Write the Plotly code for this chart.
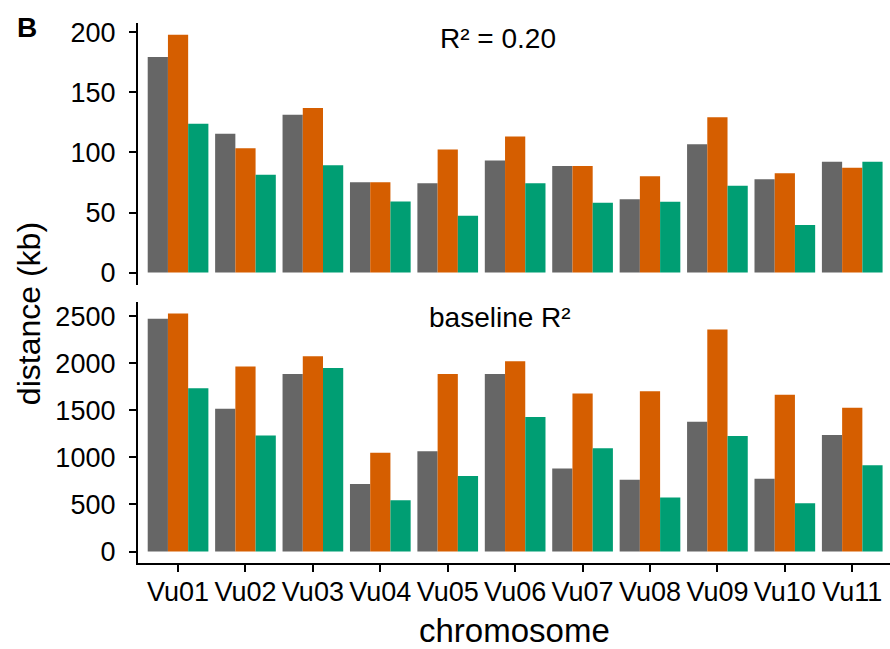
import plotly.graph_objects as go

# Chromosomes and distances (kb) for the three series
chromosomes = ["Vu01", "Vu02", "Vu03", "Vu04", "Vu05", "Vu06",
               "Vu07", "Vu08", "Vu09", "Vu10", "Vu11"]

# Top panel: distance at R^2 = 0.20
r2_gray = [179.5, 115.6, 131.5, 75.3, 74.5, 93.4, 88.8, 61.1, 106.9, 77.8, 92.3]
r2_orange = [198.0, 103.6, 137.0, 75.3, 102.5, 113.4, 88.8, 80.3, 129.3, 82.8, 87.4]
r2_green = [124.0, 81.4, 89.3, 59.2, 47.4, 74.3, 58.1, 58.9, 72.3, 39.7, 92.3]

# Bottom panel: distance at baseline R^2
base_gray = [2472, 1517, 1885, 717, 1066, 1885, 881, 762, 1378, 773, 1238]
base_orange = [2528, 1965, 2073, 1049, 1885, 2021, 1678, 1703, 2357, 1664, 1528]
base_green = [1734, 1231, 1948, 545, 801, 1430, 1098, 573, 1227, 514, 916]

colors = ["#666666", "#D55E00", "#009E73"]
FONT = "Liberation Sans, Arial, Helvetica, sans-serif"
W, H = 890, 649

fig = go.Figure()

for vals, col in zip([r2_gray, r2_orange, r2_green], colors):
    fig.add_trace(go.Bar(x=chromosomes, y=vals, marker=dict(color=col, line=dict(width=0)),
                         xaxis="x2", yaxis="y2", showlegend=False, offsetgroup=col))
for vals, col in zip([base_gray, base_orange, base_green], colors):
    fig.add_trace(go.Bar(x=chromosomes, y=vals, marker=dict(color=col, line=dict(width=0)),
                         xaxis="x", yaxis="y", showlegend=False, offsetgroup=col))

xdom = [137.6 / W, 1.0]
xrange_ = [-0.6, 10.56]

def ydom(top_px, bottom_px):
    return [1 - bottom_px / H, 1 - top_px / H]

axis_common = dict(showline=True, linecolor="black", linewidth=1.5,
                   ticks="outside", ticklen=7, tickwidth=1.5, tickcolor="black",
                   showgrid=False, zeroline=False,
                   tickfont=dict(family=FONT, size=27, color="black"))

fig.update_layout(
    width=W, height=H,
    margin=dict(l=0, r=0, t=0, b=0),
    paper_bgcolor="white", plot_bgcolor="white",
    barmode="group", bargap=0.1, bargroupgap=0,
    xaxis=dict(domain=xdom, range=xrange_, anchor="y", type="category",
               ticklabelstandoff=-4, **axis_common),
    xaxis2=dict(domain=xdom, range=xrange_, anchor="y2", type="category",
                matches="x", showline=False, showticklabels=False, ticks="",
                showgrid=False, zeroline=False),
    yaxis=dict(domain=ydom(300.3, 565.4), range=[-126.4, 2654.4], anchor="x",
               tickvals=[0, 500, 1000, 1500, 2000, 2500], ticklabelstandoff=8,
               **axis_common),
    yaxis2=dict(domain=ydom(18.1, 283.0), range=[-9.9, 207.9], anchor="x2",
                tickvals=[0, 50, 100, 150, 200], ticklabelstandoff=8,
                **axis_common),
)

def ann(text, px, py, size, bold=False, angle=0):
    fig.add_annotation(x=px / W, y=1 - py / H, xref="paper", yref="paper",
                       text=f"<b>{text}</b>" if bold else text, showarrow=False,
                       textangle=angle, xanchor="center", yanchor="middle",
                       font=dict(family=FONT, size=size, color="black"))

ann("B", 27, 23, 28, bold=True)
ann("R² = 0.20", 498, 34, 28)
ann("baseline R²", 500, 316, 28)
ann("distance (kb)", 29, 313, 32, angle=-90)
ann("chromosome", 514, 633, 33)

fig.write_html("out.html")
